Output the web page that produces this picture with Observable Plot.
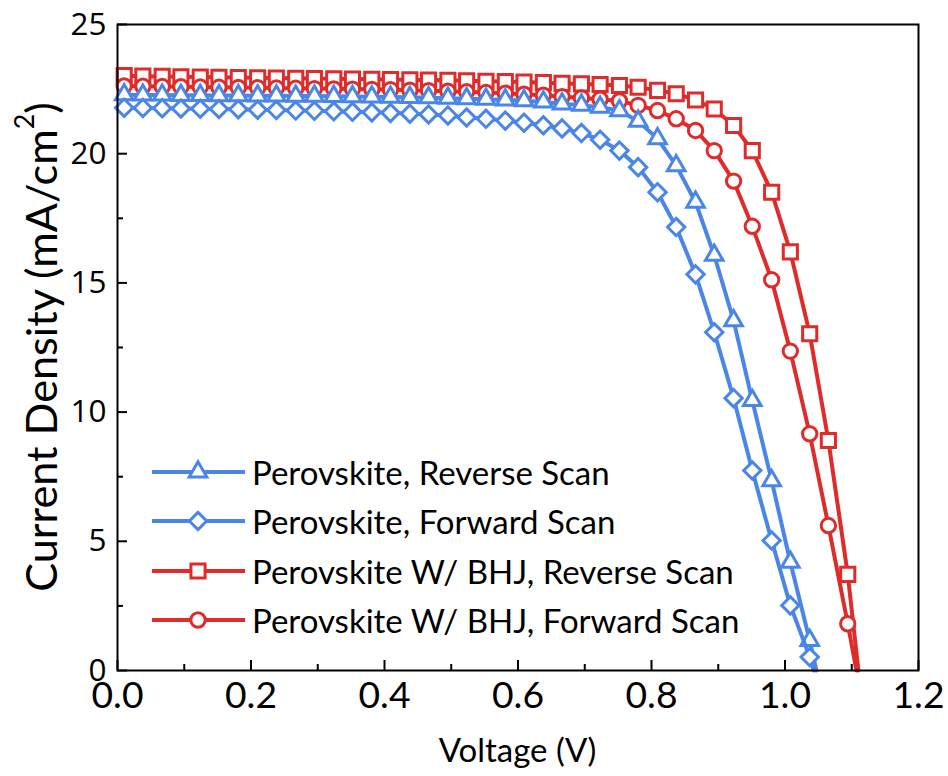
<!DOCTYPE html>
<html>
<head>
<meta charset="utf-8">
<script src="https://cdn.jsdelivr.net/npm/d3@7"></script>
<script src="https://cdn.jsdelivr.net/npm/@observablehq/plot@0.6"></script>
<style>
html, body { margin: 0; padding: 0; background: #fff; }
#chart svg { display: block; }
</style>
</head>
<body>
<div id="chart"></div>
<script>
// ---------------- data ----------------
const voltage = [0.010, 0.038, 0.067, 0.095, 0.124, 0.152, 0.181, 0.210, 0.238, 0.267,
                 0.295, 0.324, 0.352, 0.381, 0.409, 0.438, 0.466, 0.495, 0.523, 0.552,
                 0.581, 0.609, 0.638, 0.666, 0.695, 0.723, 0.752, 0.780, 0.809, 0.837,
                 0.866, 0.894, 0.923, 0.951, 0.980, 1.008, 1.037, 1.065, 1.094];

const perovReverse = [22.28, 22.27, 22.27, 22.26, 22.26, 22.25, 22.25, 22.24, 22.24, 22.23,
                      22.23, 22.22, 22.21, 22.20, 22.19, 22.18, 22.17, 22.15, 22.13, 22.11,
                      22.08, 22.05, 22.00, 21.93, 21.88, 21.80, 21.67, 21.26, 20.58, 19.54,
                      18.12, 16.07, 13.54, 10.45, 7.35, 4.19, 1.16];
const perovForward = [21.78, 21.77, 21.76, 21.75, 21.74, 21.73, 21.72, 21.70, 21.69, 21.67,
                      21.66, 21.64, 21.62, 21.60, 21.58, 21.55, 21.52, 21.48, 21.40, 21.35,
                      21.28, 21.20, 21.10, 20.98, 20.80, 20.54, 20.12, 19.48, 18.51, 17.16,
                      15.33, 13.09, 10.54, 7.74, 5.03, 2.52, 0.52];
const bhjReverse = [23.02, 23.00, 22.99, 22.98, 22.97, 22.96, 22.95, 22.94, 22.93, 22.92,
                    22.91, 22.90, 22.89, 22.88, 22.87, 22.86, 22.85, 22.84, 22.82, 22.80,
                    22.79, 22.77, 22.75, 22.72, 22.70, 22.68, 22.64, 22.57, 22.45, 22.32,
                    22.08, 21.73, 21.09, 20.12, 18.51, 16.20, 13.03, 8.90, 3.72];
const bhjForward = [22.62, 22.61, 22.60, 22.59, 22.58, 22.57, 22.56, 22.55, 22.54, 22.53,
                    22.52, 22.51, 22.50, 22.49, 22.48, 22.46, 22.44, 22.42, 22.40, 22.37,
                    22.34, 22.30, 22.26, 22.21, 22.16, 22.11, 22.04, 21.87, 21.67, 21.35,
                    20.90, 20.12, 18.94, 17.19, 15.12, 12.36, 9.16, 5.61, 1.81];
// open-circuit voltages where each curve meets J = 0
const vocValues = [1.047, 1.043, 1.110, 1.107];

const seriesNames = ["Perovskite, Reverse Scan", "Perovskite, Forward Scan",
                     "Perovskite W/ BHJ, Reverse Scan", "Perovskite W/ BHJ, Forward Scan"];

const xMajor = [0.0, 0.2, 0.4, 0.6, 0.8, 1.0, 1.2];
const xMinor = [0.1, 0.3, 0.5, 0.7, 0.9, 1.1];
const yMajor = [0, 5, 10, 15, 20, 25];
const yMinor = [2.5, 7.5, 12.5, 17.5, 22.5];

const xTitle = "Voltage (V)";
const yTitleMain = "Current Density (mA/cm";
const yTitleSup = "2";
const yTitleEnd = ")";

// ---------------- styling ----------------
const W = 948, H = 776;
const mL = 117, mR = 30, mT = 24, mB = 106;
const blue = "#4a86e8", red = "#e02b2b";

function textWidth(txt, font) {
  const c = document.createElement("canvas").getContext("2d");
  c.font = font;
  return c.measureText(txt).width;
}
const mainFont = "Lato";
const fs = 36 * 488 / textWidth(seriesNames[3], "36px " + mainFont);
const xfs = 36 * 52 / textWidth("0.0", "36px " + mainFont);
const yTickFont = "Open Sans";
const yfs = 36 * 36 / textWidth("25", "36px " + yTickFont);
// y title: total length about 490 px
const ytW = textWidth(yTitleMain + yTitleEnd, "36px " + mainFont) + 0.62 * textWidth(yTitleSup, "36px " + mainFont);
const ytfs = 36 * 490 / ytW;

const styles = [
  {color: blue, symbol: "triangle2", d3symbol: d3.symbolTriangle2, r: 8.4},
  {color: blue, symbol: "diamond2", d3symbol: d3.symbolDiamond2, r: 7.8},
  {color: red, symbol: "square2", d3symbol: d3.symbolSquare2, r: 9.0},
  {color: red, symbol: "circle", d3symbol: d3.symbolCircle, r: 7.2}
];

const allValues = [perovReverse, perovForward, bhjReverse, bhjForward];
const seriesData = allValues.map((vals, i) => {
  const dots = vals.map((J, k) => ({V: voltage[k], J, series: seriesNames[i]}));
  const line = dots.concat([{V: vocValues[i], J: 0, series: seriesNames[i]}]);
  return {dots, line};
});

const drawOrder = [2, 3, 0, 1];
const seriesMarks = [];
for (const i of drawOrder) {
  const st = styles[i];
  seriesMarks.push(Plot.line(seriesData[i].line, {x: "V", y: "J", stroke: st.color, strokeWidth: 4}));
  seriesMarks.push(Plot.dot(seriesData[i].dots, {x: "V", y: "J", symbol: () => st.symbol, r: st.r,
    stroke: st.color, fill: "white", strokeWidth: 3}));
}

const plot = Plot.plot({
  width: W, height: H,
  marginLeft: mL, marginRight: mR, marginTop: mT, marginBottom: mB,
  x: {domain: [0, 1.2]},
  y: {domain: [0, 25]},
  style: {background: "white", color: "black", overflow: "visible"},
  marks: [
    Plot.axisX(xMinor, {tickSize: -6, strokeWidth: 2, tickFormat: () => "", label: null}),
    Plot.axisX(xMajor, {tickSize: -10, strokeWidth: 2, tickFormat: () => "", label: null}),
    Plot.axisX(xMajor, {tickSize: 0, tickPadding: 11, tickFormat: d3.format(".1f"),
      fontSize: xfs, fontFamily: mainFont, label: null}),
    Plot.axisY(yMinor, {tickSize: -6, strokeWidth: 2, tickFormat: () => "", label: null}),
    Plot.axisY(yMajor, {tickSize: -10, strokeWidth: 2, tickFormat: () => "", label: null}),
    Plot.axisY(yMajor, {tickSize: 0, tickPadding: 11, tickFormat: d3.format("d"),
      fontSize: yfs, fontFamily: yTickFont, label: null}),
    ...seriesMarks,
    Plot.frame({stroke: "black", strokeWidth: 2})
  ]
});

document.getElementById("chart").appendChild(plot);

// ---------------- titles & legend ----------------
const svg = d3.select(plot);
svg.append("text")
  .attr("x", mL + (W - mL - mR) / 2).attr("y", 749)
  .attr("text-anchor", "middle").attr("dominant-baseline", "central")
  .attr("font-family", mainFont).attr("font-size", fs).attr("fill", "black")
  .text(xTitle);

const yl = svg.append("text")
  .attr("transform", `translate(40,${mT + (H - mT - mB) / 2}) rotate(-90)`)
  .attr("text-anchor", "middle").attr("dominant-baseline", "central")
  .attr("font-family", mainFont).attr("font-size", ytfs).attr("fill", "black");
yl.append("tspan").text(yTitleMain);
yl.append("tspan").attr("dy", -ytfs * 0.38).attr("font-size", ytfs * 0.62).text(yTitleSup);
yl.append("tspan").attr("dy", ytfs * 0.38).text(yTitleEnd);

const legendY = [472, 521, 571, 620];
const lg = svg.append("g");
seriesNames.forEach((name, i) => {
  const st = styles[i];
  const y = legendY[i];
  lg.append("line").attr("x1", 152).attr("x2", 245).attr("y1", y).attr("y2", y)
    .attr("stroke", st.color).attr("stroke-width", 4);
  lg.append("path")
    .attr("d", d3.symbol(st.d3symbol, Math.PI * st.r * st.r)())
    .attr("transform", `translate(198,${y})`)
    .attr("fill", "white").attr("stroke", st.color).attr("stroke-width", 3);
  lg.append("text").attr("x", 252).attr("y", y)
    .attr("text-anchor", "start")
    .attr("dominant-baseline", "central")
    .attr("font-family", mainFont).attr("font-size", fs).attr("fill", "black")
    .text(name);
});
</script>
</body>
</html>
